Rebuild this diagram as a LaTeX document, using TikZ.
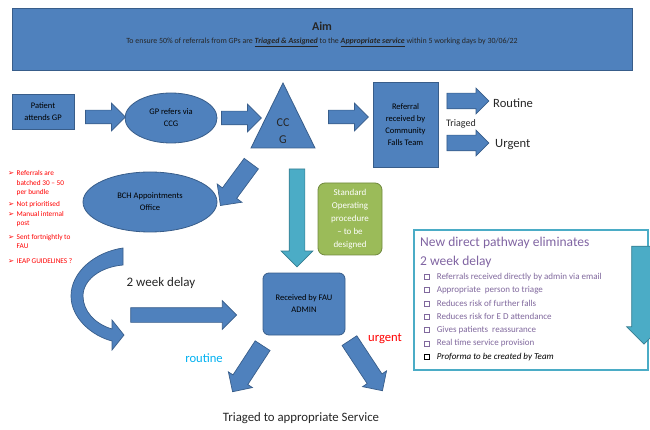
\documentclass[tikz,border=0pt]{standalone}
\usepackage{fontspec}
\setmainfont{Carlito}
\newfontfamily\dejavu{DejaVu Sans}
\usetikzlibrary{positioning,shapes.geometric,shapes.arrows}

\definecolor{boxblue}{HTML}{4F81BD}
\definecolor{boxedge}{HTML}{385D8A}
\definecolor{tealfill}{HTML}{4BACC6}
\definecolor{tealedge}{HTML}{357D91}
\definecolor{sopgreen}{HTML}{9BBB59}
\definecolor{sopedge}{HTML}{71893F}
\definecolor{lilac}{HTML}{8064A2}
\definecolor{skyblue}{HTML}{00B0F0}

\newcommand\fsz[2]{\fontsize{#1}{#2}\selectfont}
\newcommand\tickbox{\raisebox{0.3pt}{\setlength\fboxsep{0pt}\setlength\fboxrule{0.5pt}\fbox{\rule{0pt}{4.6pt}\hspace{4.6pt}}}}
\newcommand\redbullet{\makebox[8.5pt][l]{\dejavu\fsz{7.3}{9}➢}}

\begin{document}
\begin{tikzpicture}[x=1pt,y=-1pt,
  bluebox/.style={draw=boxedge,fill=boxblue,line width=0.8pt,align=center,inner sep=1pt,font=\fsz{8.5}{12}},
  blueoval/.style={bluebox,ellipse},
  barrow/.style={single arrow,draw=boxedge,fill=boxblue,line width=0.7pt,inner xsep=0pt,inner ysep=6.5pt,minimum height=#1,single arrow head extend=7pt},
  tarrow/.style={barrow=#1,draw=tealedge,fill=tealfill},
  txt/.style={inner sep=0pt,text=black!85}]
\useasboundingbox (0,0) rectangle (650,430);

% aim banner
\node[bluebox,minimum width=620,minimum height=62,anchor=north west] (aim) at (12,8) {};
\node[txt,font=\fsz{12}{14}\bfseries] (aimtitle) at (322,26) {Aim};
\node[txt,font=\fsz{7.9}{9}] (aimtext) at (322,42) {To ensure 50\% of referrals from GPs are \underline{\textbf{\textit{Triaged \& Assigned}}} to the \underline{\textbf{\textit{Appropriate service}}} within 5 working days by 30/06/22};

% top row
\node[bluebox,minimum width=62,minimum height=35] (patient) at (43,112) {Patient\\attends GP};
\node[blueoval,minimum width=92,minimum height=50] (gpref) at (171,118) {GP refers via\\CCG};
\filldraw[draw=boxedge,fill=boxblue,line width=0.8pt] (283,83) -- (315,148) -- (251,148) -- cycle;
\node[txt,align=center,font=\fsz{12}{17}] (ccg) at (283,131) {CC\\G};
\node[bluebox,minimum width=65,minimum height=85] (referral) at (405.5,124.5) {Referral\\received by\\Community\\Falls Team};
\node[barrow=40] (a1) at (102,117) {};
\node[barrow=40] (a2) at (238,118) {};
\node[barrow=40] (a3) at (345,117) {};
\node[barrow=42,inner ysep=7.5pt,single arrow head extend=5pt] (a4) at (464,101) {};
\node[barrow=42,inner ysep=7.5pt,single arrow head extend=5pt] (a5) at (464,143) {};
\node[txt,anchor=west,font=\fsz{12.6}{15}] (routine) at (493,103) {Routine};
\node[txt,anchor=west,font=\fsz{12.6}{15}] (urgent) at (495,145) {Urgent};
\node[txt,font=\fsz{10}{12}] (triaged) at (461,124) {Triaged};

% middle
\node[blueoval,minimum width=134,minimum height=60] (bch) at (150,202) {BCH Appointments\\Office};
\node[barrow=52,inner ysep=8.5pt,single arrow head extend=6.5pt,rotate=233.6] (a6) at (238.5,181) {};
\node[tarrow=98,inner ysep=7.5pt,single arrow head extend=8pt,rotate=-90] (a7) at (297,214) {};
\node[draw=sopedge,fill=sopgreen,line width=0.8pt,rounded corners=7pt,minimum width=64,minimum height=72,align=center,text=white,font=\fsz{9}{13}] (sop) at (350,219) {Standard\\Operating\\procedure\\-- to be\\designed};

\node[txt,anchor=north west,text=red,font=\fsz{7.3}{9.3}] (notes) at (8,169) {%
\begin{tabular}{@{}l@{}l@{}}
\redbullet & Referrals are\\
 & batched 30 -- 50\\
 & per bundle\\[2.5pt]
\redbullet & Not prioritised\\[1pt]
\redbullet & Manual internal\\
 & post\\[4.5pt]
\redbullet & Sent fortnightly to\\
 & FAU\\[5.5pt]
\redbullet & IEAP GUIDELINES ?
\end{tabular}};

% lower part
\filldraw[draw=boxedge,fill=boxblue,line width=0.7pt]
  (123,248) .. controls (95,252) and (71,272) .. (71,296)
  .. controls (71,318) and (92,336) .. (112,341) -- (112,350) -- (124,335) -- (112,320) -- (112,329)
  .. controls (95,324) and (83,311) .. (83,296) .. controls (83,280) and (100,267) .. (123,265) -- cycle;
\node[txt,font=\fsz{13}{15}] (delay) at (161,283) {2 week delay};
\node[barrow=106,inner ysep=7pt,single arrow head extend=7pt] (a8) at (180,315) {};
\node[bluebox,rounded corners=6pt,minimum width=82,minimum height=62] (fau) at (304,304) {Received by FAU\\ADMIN};
\node[barrow=55,inner ysep=8.5pt,single arrow head extend=5.5pt,rotate=236.9] (a9) at (250,365) {};
\node[barrow=60,inner ysep=8.5pt,single arrow head extend=5.5pt,rotate=-56.6] (a10) at (363.5,362) {};
\node[txt,text=skyblue,font=\fsz{12.6}{15}] (routinelow) at (204,358) {routine};
\node[txt,text=red,font=\fsz{12.6}{15}] (urgentlow) at (385,339) {urgent};
\node[txt,font=\fsz{12.8}{15}] (outcome) at (301,418) {Triaged to appropriate Service};

% new pathway box
\node[draw=tealfill,line width=1.6pt,minimum width=234,minimum height=140,anchor=north west] (pathway) at (413,229) {};
\node[tarrow=98,inner ysep=12pt,single arrow head extend=5pt,rotate=-90] (a11) at (644,289) {};
\node[txt,anchor=north west,align=left,text=lilac,font=\fsz{13.5}{19}] (pathhead) at (420,236.5) {New direct pathway eliminates\\2 week delay};
\node[txt,anchor=north west,align=left,text=lilac!85!gray,font=\fsz{9}{13.3}] (pathlist) at (424,273) {%
\tickbox\hspace{7pt}Referrals received directly by admin via email\\
\tickbox\hspace{7pt}Appropriate\ \ person to triage\\
\tickbox\hspace{7pt}Reduces risk of further falls\\
\tickbox\hspace{7pt}Reduces risk for E D attendance\\
\tickbox\hspace{7pt}Gives patients\ \ reassurance\\
\tickbox\hspace{7pt}Real time service provision\\
{\color{black}\tickbox\hspace{7pt}\itshape Proforma to be created by Team}};
\end{tikzpicture}
\end{document}
